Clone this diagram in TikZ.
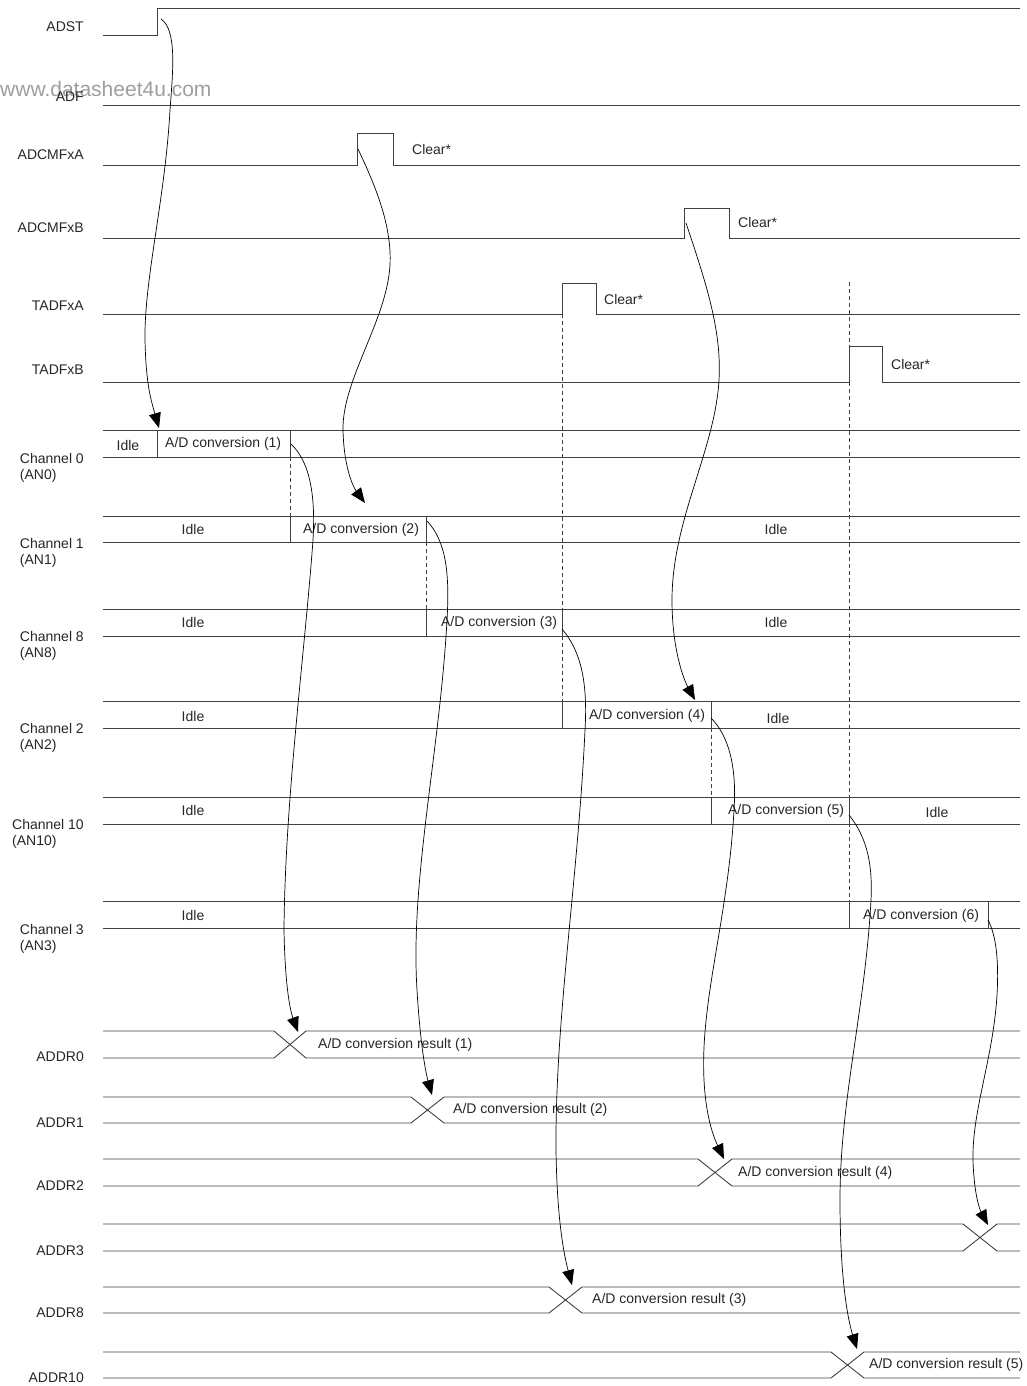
\documentclass[tikz,border=0pt]{standalone}
\usepackage{fontspec}
\setmainfont{Liberation Sans}
\usetikzlibrary{arrows.meta}
\begin{document}
\begin{tikzpicture}[x=1pt,y=-1pt,
  sig/.style={line width=0.9pt, draw=black!75},
  conn/.style={line width=0.7pt, draw=black, -{Triangle[length=15pt,width=12pt]}},
  guide/.style={line width=0.7pt, draw=black!75, dash pattern=on 4pt off 3pt},
  lbl/.style={font=\fontsize{14}{17}\selectfont, text=black!85, inner sep=0pt},
]
\useasboundingbox (0,0) rectangle (1026,1386);

% watermark
\node[anchor=base west, inner sep=0pt, font=\fontsize{21}{24}\selectfont, text=black!38] (wm) at (0,97) {www.datasheet4u.com};

% ---- signal names
\node[lbl, anchor=east] (nADST) at (84,27) {ADST};
\node[lbl, anchor=east] (nADF) at (84,97) {ADF};
\node[lbl, anchor=east] (nCMA) at (84,155) {ADCMFxA};
\node[lbl, anchor=east] (nCMB) at (84,228) {ADCMFxB};
\node[lbl, anchor=east] (nTA) at (84,306) {TADFxA};
\node[lbl, anchor=east] (nTB) at (84,370) {TADFxB};

\foreach \n/\t/\s/\y in {c0/Channel 0/(AN0)/458, c1/Channel 1/(AN1)/543, c8/Channel 8/(AN8)/636,
  c2/Channel 2/(AN2)/728, c10/Channel 10/(AN10)/824, c3/Channel 3/(AN3)/929}{
  \node[lbl, anchor=east] (\n l) at (84,\y) {\t};
  \node[lbl, anchor=west] (\n s) at ([yshift=-18pt]\n l.west) {\s};
}

\foreach \n/\y in {ADDR0/1057, ADDR1/1123, ADDR2/1186, ADDR3/1251, ADDR8/1313, ADDR10/1378}{
  \node[lbl, anchor=east] (n\n) at (84,\y) {\n};
}

% ---- control signals
\draw[sig] (103,35) -- (157,35) -- (157,8) -- (1020,8);
\draw[sig] (103,105) -- (1020,105);
\draw[sig] (103,165) -- (357,165) -- (357,133) -- (393,133) -- (393,165) -- (1020,165);
\draw[sig] (103,238) -- (684,238) -- (684,208) -- (729,208) -- (729,238) -- (1020,238);
\draw[sig] (103,314) -- (562,314) -- (562,283) -- (596,283) -- (596,314) -- (1020,314);
\draw[sig] (103,382) -- (849,382) -- (849,346) -- (882,346) -- (882,382) -- (1020,382);

\node[lbl, anchor=west] (clA) at (412,149) {Clear*};
\node[lbl, anchor=west] (clB) at (738,222) {Clear*};
\node[lbl, anchor=west] (clTA) at (604,299) {Clear*};
\node[lbl, anchor=west] (clTB) at (891,364) {Clear*};

% ---- channel rows
\foreach \t/\b/\xa/\xb in {430/457/157/290, 516/542/290/426, 609/636/426/562,
  701/728/562/711, 797/824/711/849, 901/928/849/988}{
  \draw[sig] (103,\t) -- (1020,\t);
  \draw[sig] (103,\b) -- (1020,\b);
  \draw[sig] (\xa,\t) -- (\xa,\b);
  \draw[sig] (\xb,\t) -- (\xb,\b);
}

% dashed guides
\draw[guide] (290,457) -- (290,516);
\draw[guide] (426,542) -- (426,609);
\draw[guide] (562,314) -- (562,701);
\draw[guide] (711,728) -- (711,797);
\draw[guide] (849,282) -- (849,346);
\draw[guide] (849,382) -- (849,901);

% channel texts
\node[lbl] (i0) at (128,445) {Idle};
\node[lbl, anchor=west] (ad1) at (165,444) {A/D conversion (1)};
\node[lbl] (i1) at (193,529) {Idle};
\node[lbl] (ad2) at (361,530) {A/D conversion (2)};
\node[lbl] (i1b) at (776,529) {Idle};
\node[lbl] (i8) at (193,622) {Idle};
\node[lbl] (ad3) at (499,623) {A/D conversion (3)};
\node[lbl] (i8b) at (776,622) {Idle};
\node[lbl] (i2) at (193,716) {Idle};
\node[lbl] (ad4) at (647,716) {A/D conversion (4)};
\node[lbl] (i2b) at (778,718) {Idle};
\node[lbl] (i10) at (193,810) {Idle};
\node[lbl] (ad5) at (786,811) {A/D conversion (5)};
\node[lbl] (i10b) at (937,812) {Idle};
\node[lbl] (i3) at (193,915) {Idle};
\node[lbl] (ad6) at (921,916) {A/D conversion (6)};

% ---- ADDR rows
\foreach \t/\b/\xl/\xr in {1031/1058/274/306, 1097/1123/411/444, 1159/1186/698/732,
  1224/1251/963/997, 1287/1313/549/582, 1352/1378/831/864}{
  \draw[sig] (103,\t) -- (\xl,\t) -- (\xr,\b) -- (1020,\b);
  \draw[sig] (103,\b) -- (\xl,\b) -- (\xr,\t) -- (1020,\t);
}
\node[lbl, anchor=west] (r1) at (318,1045) {A/D conversion result (1)};
\node[lbl, anchor=west] (r2) at (453,1110) {A/D conversion result (2)};
\node[lbl, anchor=west] (r4) at (738,1173) {A/D conversion result (4)};
\node[lbl, anchor=west] (r3) at (592,1300) {A/D conversion result (3)};
\node[lbl, anchor=west] (r5) at (869,1365) {A/D conversion result (5)};

% ---- arrow end points
\coordinate (a1s) at (161,19);   \coordinate (a1e) at (159,428);
\coordinate (a2s) at (358,149);  \coordinate (a2e) at (365,503);
\coordinate (a3s) at (686,223);  \coordinate (a3e) at (695,700);
\coordinate (a4s) at (291,444);  \coordinate (a4e) at (298,1032);
\coordinate (a5s) at (427,521);  \coordinate (a5e) at (432,1095);
\coordinate (a6s) at (562,629);  \coordinate (a6e) at (572,1285);
\coordinate (a7s) at (711,718);  \coordinate (a7e) at (724,1159);
\coordinate (a8s) at (849,815);  \coordinate (a8e) at (857,1349);
\coordinate (a9s) at (988,920);  \coordinate (a9e) at (988,1225);

\draw[conn] (a1s) .. controls (177,30) and (173,70) .. (170,110)
  .. controls (165,200) and (144,280) .. (145,340)
  .. controls (146,385) and (151,400) .. (a1e);
\draw[conn] (a2s) .. controls (375,185) and (392,225) .. (390,265)
  .. controls (387,320) and (342,380) .. (343,430)
  .. controls (344,470) and (354,488) .. (a2e);
\draw[conn] (a3s) .. controls (705,280) and (722,330) .. (719,380)
  .. controls (715,450) and (672,520) .. (672,600)
  .. controls (672,650) and (684,680) .. (a3e);
\draw[conn] (a4s) .. controls (308,460) and (316,490) .. (313,540)
  .. controls (305,650) and (285,800) .. (284,930)
  .. controls (285,985) and (290,1010) .. (a4e);
\draw[conn] (a5s) .. controls (445,540) and (450,570) .. (447,620)
  .. controls (440,750) and (410,880) .. (417,990)
  .. controls (420,1040) and (425,1070) .. (a5e);
\draw[conn] (a6s) .. controls (580,650) and (588,680) .. (585,730)
  .. controls (578,880) and (555,1020) .. (556,1150)
  .. controls (557,1220) and (564,1255) .. (a6e);
\draw[conn] (a7s) .. controls (728,735) and (737,765) .. (734,810)
  .. controls (728,920) and (700,1000) .. (704,1080)
  .. controls (706,1120) and (715,1140) .. (a7e);
\draw[conn] (a8s) .. controls (865,835) and (873,860) .. (871,900)
  .. controls (865,1010) and (840,1100) .. (840,1200)
  .. controls (840,1280) and (848,1320) .. (a8e);
\draw[conn] (a9s) .. controls (996,935) and (999,960) .. (997,995)
  .. controls (993,1060) and (972,1110) .. (973,1160)
  .. controls (974,1195) and (980,1210) .. (a9e);
\end{tikzpicture}
\end{document}
